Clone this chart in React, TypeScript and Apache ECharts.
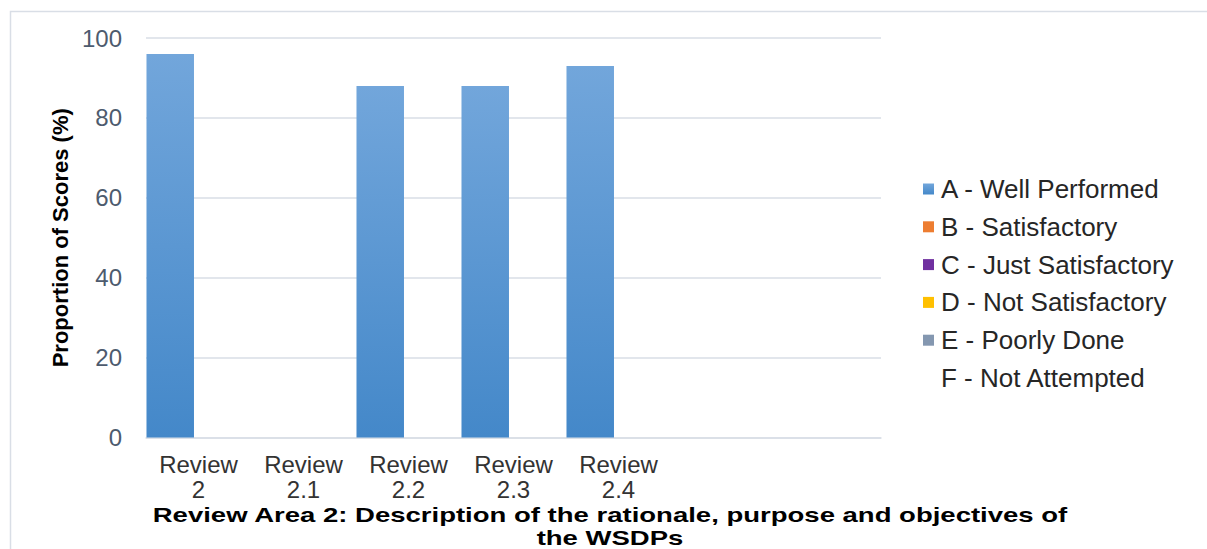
import { useEffect, useRef } from "react";
import * as echarts from "echarts";

// Review items along the x axis (the last two slots are left blank)
const categories = ["Review\n2", "Review\n2.1", "Review\n2.2", "Review\n2.3", "Review\n2.4", "", ""];

// Proportion of scores (%) per grade
const wellPerformed = [96, 0, 88, 88, 93, null, null];
const satisfactory = [0, 0, 0, 0, 0, null, null];
const justSatisfactory = [0, 0, 0, 0, 0, null, null];
const notSatisfactory = [0, 0, 0, 0, 0, null, null];
const poorlyDone = [0, 0, 0, 0, 0, null, null];
const notAttempted = [0, 0, 0, 0, 0, null, null];

const gradeNames = [
  "A - Well Performed",
  "B - Satisfactory",
  "C - Just Satisfactory",
  "D - Not Satisfactory",
  "E - Poorly Done",
  "F - Not Attempted",
];
const gradeColors = ["#5B9BD5", "#ED7D31", "#7030A0", "#FFC000", "#8497B0", "#FFFFFF"];
const gradeValues = [wellPerformed, satisfactory, justSatisfactory, notSatisfactory, poorlyDone, notAttempted];

const yMin = 0;
const yMax = 100;
const yStep = 20;

const chartTitle = "Review Area 2: Description of the rationale, purpose and objectives of\nthe WSDPs";
const yAxisTitle = "Proportion of Scores (%)";

const FONT = "'Liberation Sans', Arial, sans-serif";

export default function App() {
  const ref = useRef<HTMLDivElement>(null);

  useEffect(() => {
    if (!ref.current) return;
    const chart = echarts.init(ref.current, undefined, { renderer: "svg" });

    const barFill = new echarts.graphic.LinearGradient(0, 0, 0, 1, [
      { offset: 0, color: "#72A6DB" },
      { offset: 1, color: "#4488C9" },
    ]);

    chart.setOption({
      animation: false,
      backgroundColor: "#FFFFFF",
      textStyle: { fontFamily: FONT },
      grid: { left: 146, right: 326, top: 38, bottom: 111.5, containLabel: false },
      legend: {
        orient: "vertical",
        left: 918,
        top: 170,
        itemWidth: 11,
        itemHeight: 11,
        itemGap: 9.8,
        icon: "rect",
        data: gradeNames,
        textStyle: { fontFamily: FONT, fontSize: 26, lineHeight: 28, color: "#262626", padding: [0, 0, 0, 2] },
      },
      xAxis: {
        type: "category",
        data: categories,
        axisLine: { lineStyle: { color: "#D9DEE6", width: 1.5 } },
        axisTick: { show: false },
        axisLabel: {
          interval: 0,
          fontFamily: FONT,
          fontSize: 24,
          lineHeight: 25.5,
          color: "#333333",
          margin: 14,
        },
      },
      yAxis: {
        type: "value",
        min: yMin,
        max: yMax,
        interval: yStep,
        name: yAxisTitle,
        nameLocation: "middle",
        nameRotate: 90,
        nameGap: 75,
        nameTextStyle: { fontFamily: FONT, fontSize: 22, fontWeight: "bold", color: "#000000" },
        axisLine: { show: false },
        axisTick: { show: false },
        splitLine: { lineStyle: { color: "#D9DEE6", width: 1.5 } },
        axisLabel: { fontFamily: FONT, fontSize: 24, color: "#4D5B6E", margin: 24 },
      },
      series: gradeNames.map((name, i) => ({
        name,
        type: "bar",
        data: gradeValues[i],
        barWidth: 47.5,
        barGap: "-76.2%",
        itemStyle: { color: i === 0 ? barFill : gradeColors[i] },
        emphasis: { disabled: true },
      })),
      graphic: [
        {
          type: "rect",
          silent: true,
          shape: { x: 10.5, y: 11.5, width: 1300, height: 700 },
          style: { fill: "none", stroke: "#D9DEE6", lineWidth: 1.5 },
        },
        {
          type: "text",
          x: 610,
          y: 503,
          scaleX: 1.31,
          style: {
            text: chartTitle,
            textAlign: "center",
            textVerticalAlign: "top",
            fontFamily: FONT,
            fontSize: 21,
            fontWeight: "bold",
            lineHeight: 23,
            fill: "#000000",
          },
        },
      ],
    });

    return () => chart.dispose();
  }, []);

  return (
    <div
      ref={ref}
      style={{ position: "fixed", left: 0, top: 0, width: 1207, height: 549 }}
    />
  );
}
